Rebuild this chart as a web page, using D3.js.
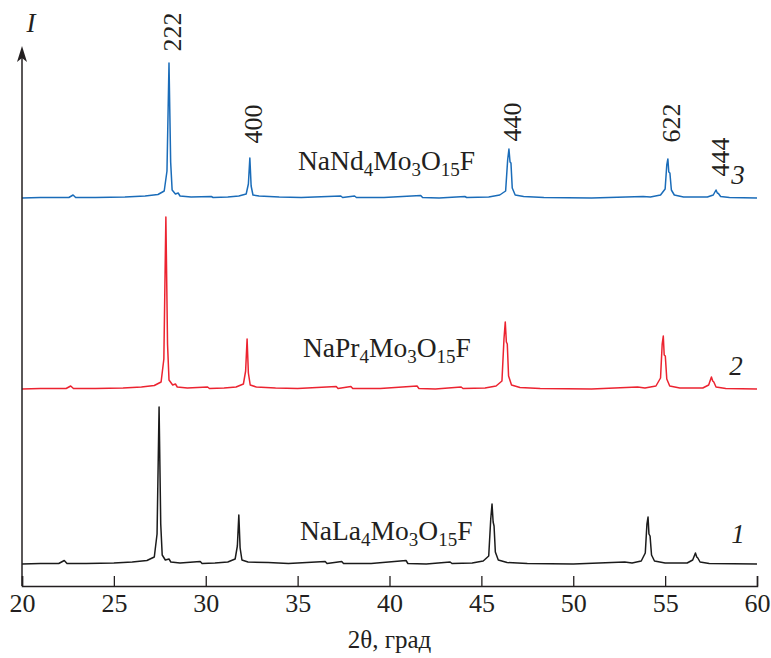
<!DOCTYPE html>
<html>
<head>
<meta charset="utf-8">
<script src="https://cdn.jsdelivr.net/npm/d3@7/dist/d3.min.js"></script>
<style>
  html, body { margin: 0; padding: 0; background: #fff; }
  svg { display: block; }
  text { font-family: "Liberation Serif", "DejaVu Serif", serif; fill: #231f20; }
</style>
</head>
<body>
<svg id="chart" width="771" height="658"></svg>
<script>
// ---- Data ----
const xTicks = [20, 25, 30, 35, 40, 45, 50, 55, 60];
const seriesNames = ["NaLa4Mo3O15F", "NaPr4Mo3O15F", "NaNd4Mo3O15F"];
const seriesNumbers = ["1", "2", "3"];
const seriesColors = ["#1b1b1b", "#ec2330", "#1a6cb9"];
const seriesOffsets = [22, 197, 388];   // vertical stacking offset (intensity units)

// [2θ, intensity above own baseline]
const patternLa = [
  [20,0],[21,0.5],[22,0.5],[22.3,3.5],[22.45,0.5],[23.5,0.5],[25,1],[26,2],[26.8,3.5],[27.2,7],[27.35,30],
  [27.46,157],[27.55,40],[27.63,9],[27.8,4],[28.0,5],[28.1,2],[28.6,1],[29.7,2.5],[29.8,0.5],[30.5,1],
  [31.2,2],[31.6,5],[31.72,18],[31.8,49],[31.87,16],[31.97,4],[32.3,2],[33.4,1.5],[34.5,0.5],[36.5,2.5],
  [36.6,0.5],[37.4,2.5],[37.5,0.5],[39,0.5],[40.9,3.5],[41.0,0.5],[42,0],[43.3,2],[43.4,0.5],[44.5,1],
  [45.1,3],[45.4,8],[45.51,45],[45.58,60],[45.64,42],[45.69,38],[45.76,12],[45.92,4],[46.4,1.5],[47.5,0.5],
  [50,0],[52.8,2],[53.2,1],[53.7,3],[53.92,11],[54.01,40],[54.07,47],[54.12,30],[54.18,28],[54.26,9],[54.42,3],
  [55,1],[56.2,1],[56.5,4],[56.65,11],[56.72,7],[56.78,6],[56.9,2],[57.4,0.5],[60,0]
];
const patternPr = [
  [20,0],[21,0.5],[22.4,0.5],[22.65,3],[22.8,0.5],[24,0.5],[25.5,1],[26.5,2],[27.2,3.5],[27.57,7],[27.72,30],
  [27.83,172],[27.92,45],[28.0,9],[28.2,4],[28.35,5],[28.45,2],[29,1],[30.1,2],[30.2,0.5],[31,1],
  [31.65,2],[32.05,5],[32.17,18],[32.25,50],[32.32,16],[32.42,4],[32.75,2],[33.8,1],[35,0.5],[37.1,2.5],
  [37.2,0.5],[37.9,2.5],[38.0,0.5],[39.5,0.5],[41.5,3],[41.6,0.5],[42.5,0],[43.9,2],[44.0,0.5],[45.2,1],
  [45.8,3],[46.12,8],[46.23,50],[46.3,67],[46.36,47],[46.41,45],[46.48,13],[46.64,4],[47.1,1.5],[48.2,0.5],
  [51,0],[53.5,2],[53.9,1],[54.5,3],[54.75,11],[54.84,45],[54.9,53],[54.95,34],[55.01,33],[55.09,10],[55.25,3],
  [55.8,1],[57.05,1],[57.37,4],[57.52,12],[57.59,8],[57.65,7],[57.77,2],[58.3,0.5],[60,0]
];
const patternNd = [
  [20,0],[21,0.5],[22.55,0.5],[22.78,3],[22.92,0.5],[24,0.5],[25.6,1],[26.7,2],[27.4,3.5],[27.74,7],[27.89,27],
  [28.0,135],[28.09,36],[28.17,8],[28.35,4],[28.5,5],[28.6,2],[29.2,1],[30.3,1.5],[30.4,0.5],[31.2,1],
  [31.8,2],[32.2,4],[32.32,14],[32.4,40],[32.47,12],[32.57,3],[32.9,2],[34,1],[35.2,0.5],[37.35,2],
  [37.45,0.5],[38.1,2],[38.2,0.5],[39.7,0.5],[41.7,2.5],[41.8,0.5],[42.7,0],[44.1,1.5],[44.2,0.5],[45.4,1],
  [46.0,3],[46.32,7],[46.43,38],[46.5,49],[46.56,36],[46.61,35],[46.68,10],[46.84,3],[47.3,1.5],[48.4,0.5],
  [51,0],[53.8,1.5],[54.2,1],[54.75,3],[55.0,9],[55.09,33],[55.15,39],[55.2,26],[55.26,25],[55.34,8],[55.5,3],
  [56,1],[57.3,1],[57.62,3],[57.77,8],[57.84,5],[57.9,4.5],[58.02,1.5],[58.5,0.5],[60,0]
];
const patterns = [patternLa, patternPr, patternNd];

// Reflection labels on the top pattern: [hkl, 2θ position, label centre height]
const hklLabels = ["222", "400", "440", "622", "444"];
const hklPositions = [28.0, 32.4, 46.5, 55.15, 57.8];
const hklHeights = [554, 462, 464, 463, 429];

// ---- Layout ----
const svg = d3.select("#chart");
const x = d3.scaleLinear().domain([20, 60]).range([22, 757]);
const y = d3.scaleLinear().domain([0, 540]).range([586, 46]);

// patterns
const line = d3.line().x(d => x(d[0]));
patterns.forEach((p, i) => {
  svg.append("path")
    .datum(p)
    .attr("fill", "none")
    .attr("stroke", seriesColors[i])
    .attr("stroke-width", 1.5)
    .attr("stroke-linejoin", "round")
    .attr("d", line.y(d => y(d[1] + seriesOffsets[i])));
});

// x axis
const xAxis = d3.axisBottom(x).tickValues(xTicks).tickSize(-10).tickPadding(8).tickFormat(d3.format("d"));
const gx = svg.append("g").attr("transform", `translate(0,${y(0)})`).call(xAxis)
  .attr("font-family", "Liberation Serif").attr("font-size", 26);
gx.select(".domain").attr("stroke", "#231f20").attr("stroke-width", 1.5);
gx.selectAll(".tick line").attr("stroke", "#231f20").attr("stroke-width", 1.3);
gx.selectAll(".tick text").attr("fill", "#231f20");

svg.append("text").attr("x", x(40)).attr("y", 648).attr("text-anchor", "middle")
  .attr("font-size", 25).text("2θ, град");

// y axis with arrow
svg.append("line").attr("x1", x(20)).attr("x2", x(20)).attr("y1", y(0)).attr("y2", 58)
  .attr("stroke", "#231f20").attr("stroke-width", 1.5);
svg.append("path").attr("d", `M${x(20)},46 L${x(20) - 5},62 L${x(20)},58 L${x(20) + 5},62 Z`)
  .attr("fill", "#231f20");
svg.append("text").attr("x", 31).attr("y", 32).attr("text-anchor", "middle")
  .attr("font-size", 27).attr("font-style", "italic").text("I");

// hkl labels (rotated)
hklLabels.forEach((t, i) => {
  const px = x(hklPositions[i]) + 3, py = y(hklHeights[i]);
  svg.append("text")
    .attr("transform", `translate(${px},${py}) rotate(-90)`)
    .attr("text-anchor", "middle").attr("dy", "0.35em")
    .attr("font-size", 26).text(t);
});

// formula labels with subscripts
const formulaPos = [[300, 546], [303, 363], [298, 176]];
seriesNames.forEach((name, i) => {
  const parts = name.match(/[A-Za-z]+|\d+/g);
  const t = svg.append("text").attr("x", formulaPos[i][0]).attr("y", formulaPos[i][1]).attr("font-size", 27.5);
  parts.forEach(p => {
    if (/\d/.test(p)) {
      t.append("tspan").attr("font-size", 19).attr("dy", 6).text(p);
    } else {
      t.append("tspan").attr("dy", t.selectAll("tspan").size() ? -6 : 0).text(p);
    }
  });
});

// curve numbers
const numberPos = [[738, 543], [736, 375], [738, 184]];
seriesNumbers.forEach((n, i) => {
  svg.append("text").attr("x", numberPos[i][0]).attr("y", numberPos[i][1]).attr("text-anchor", "middle")
    .attr("font-size", 27).attr("font-style", "italic").text(n);
});
</script>
</body>
</html>
